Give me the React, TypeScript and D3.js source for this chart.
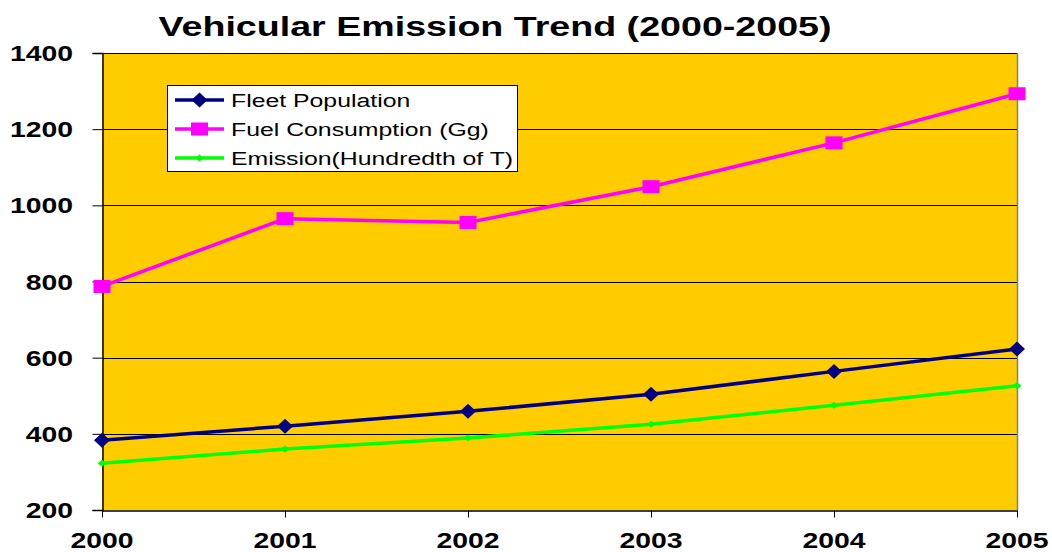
import React, { useEffect, useRef } from "react";
import * as d3 from "d3";

const years = ["2000", "2001", "2002", "2003", "2004", "2005"];
const fleetPopulation = [383, 420, 459, 504, 564, 623];
const fuelConsumption = [787, 965, 955, 1049, 1164, 1293];
const emission = [323, 360, 389, 425, 475, 526];
const yTicks = [200, 400, 600, 800, 1000, 1200, 1400];
const seriesNames = ["Fleet Population", "Fuel Consumption (Gg)", "Emission(Hundredth of T)"];

const FONT = "'Liberation Sans', Arial, sans-serif";
const SX = 1.32; // the picture is stretched horizontally

export default function App() {
  const ref = useRef<SVGSVGElement>(null);

  useEffect(() => {
    const width = 1052;
    const height = 552;
    const margin = { top: 53, right: 35, bottom: 42, left: 102 };

    const svg = d3.select(ref.current);
    svg.selectAll("*").remove();

    const x = d3
      .scalePoint()
      .domain(years)
      .range([margin.left, width - margin.right]);
    const y = d3
      .scaleLinear()
      .domain([200, 1400])
      .range([height - margin.bottom, margin.top]);

    // helper for horizontally stretched text
    const label = (
      g: any,
      tx: number,
      ty: number,
      txt: string,
      size: number,
      anchor: string,
      weight = "bold"
    ) =>
      g
        .append("text")
        .attr("transform", `translate(${tx},${ty}) scale(${SX},1)`)
        .attr("text-anchor", anchor)
        .attr("font-family", FONT)
        .attr("font-weight", weight)
        .attr("font-size", size)
        .attr("fill", "#000")
        .text(txt);

    // plot background
    svg
      .append("rect")
      .attr("x", margin.left)
      .attr("y", margin.top)
      .attr("width", width - margin.right - margin.left)
      .attr("height", height - margin.bottom - margin.top)
      .attr("fill", "#FFCC00");

    // gridlines
    svg
      .append("g")
      .selectAll("line")
      .data(yTicks.slice(1))
      .join("line")
      .attr("x1", margin.left)
      .attr("x2", width - margin.right)
      .attr("y1", (d) => Math.round(y(d)) + 0.5)
      .attr("y2", (d) => Math.round(y(d)) + 0.5)
      .attr("stroke", "#000")
      .attr("stroke-width", 1);

    // right border
    svg
      .append("line")
      .attr("x1", width - margin.right + 0.5)
      .attr("x2", width - margin.right + 0.5)
      .attr("y1", margin.top)
      .attr("y2", height - margin.bottom)
      .attr("stroke", "#808080")
      .attr("stroke-width", 1.5);

    // y axis
    const yAxis = svg
      .append("g")
      .attr("transform", `translate(${margin.left + 0.5},0)`)
      .call(d3.axisLeft(y).tickValues(yTicks).tickSize(10).tickFormat(() => ""));
    yAxis.select(".domain").attr("stroke", "#000").attr("stroke-width", 1.5);
    yAxis.selectAll(".tick line").attr("stroke", "#000");
    yTicks.forEach((t) => label(svg, 73, y(t) + 8, String(t), 21.5, "end"));

    // x axis
    const xAxis = svg
      .append("g")
      .attr("transform", `translate(0,${height - margin.bottom + 0.5})`)
      .call(d3.axisBottom(x).tickSize(7).tickSizeOuter(0).tickFormat(() => ""));
    xAxis.select(".domain").attr("stroke", "#000").attr("stroke-width", 1.5);
    xAxis.selectAll(".tick line").attr("stroke", "#000");
    years.forEach((yr) => label(svg, x(yr)!, 548, yr, 21.5, "middle"));

    // title
    label(svg, 495, 36, "Vehicular Emission Trend (2000-2005)", 28.5, "middle");

    const series = [
      { name: seriesNames[0], values: fleetPopulation, color: "#000080", width: 3.5, marker: "diamond" },
      { name: seriesNames[1], values: fuelConsumption, color: "#FF00FF", width: 3.5, marker: "square" },
      { name: seriesNames[2], values: emission, color: "#00FF00", width: 3.5, marker: "small" },
    ];

    const drawMarker = (g: any, kind: string, cx: number, cy: number, color: string) => {
      if (kind === "diamond") {
        g.append("path")
          .attr("d", `M${cx},${cy - 7.5}L${cx + 8},${cy}L${cx},${cy + 7.5}L${cx - 8},${cy}Z`)
          .attr("fill", color);
      } else if (kind === "square") {
        g.append("rect")
          .attr("x", cx - 8.5)
          .attr("y", cy - 6.5)
          .attr("width", 17)
          .attr("height", 13)
          .attr("fill", color);
      } else {
        g.append("path")
          .attr("d", `M${cx},${cy - 3.5}L${cx + 4.5},${cy}L${cx},${cy + 3.5}L${cx - 4.5},${cy}Z`)
          .attr("fill", color);
      }
    };

    const line = d3
      .line<number>()
      .x((_, i) => x(years[i])!)
      .y((d) => y(d));

    series.forEach((s) => {
      svg
        .append("path")
        .datum(s.values)
        .attr("d", line)
        .attr("fill", "none")
        .attr("stroke", s.color)
        .attr("stroke-width", s.width);
      const g = svg.append("g");
      s.values.forEach((v, i) => drawMarker(g, s.marker, x(years[i])!, y(v), s.color));
    });

    // legend
    const legend = svg.append("g");
    legend
      .append("rect")
      .attr("x", 167.5)
      .attr("y", 85.5)
      .attr("width", 350)
      .attr("height", 86)
      .attr("fill", "#fff")
      .attr("stroke", "#000")
      .attr("stroke-width", 1);
    series.forEach((s, i) => {
      const ly = 100 + i * 29;
      legend
        .append("line")
        .attr("x1", 175)
        .attr("x2", 224)
        .attr("y1", ly)
        .attr("y2", ly)
        .attr("stroke", s.color)
        .attr("stroke-width", s.width);
      drawMarker(legend, s.marker, 199.5, ly, s.color);
      label(legend, 231, ly + 7, s.name, 18.8, "start", "normal");
    });
  }, []);

  return (
    <div>
      <svg ref={ref} width={1052} height={552} style={{ position: "absolute", left: 0, top: 0 }} />
    </div>
  );
}
